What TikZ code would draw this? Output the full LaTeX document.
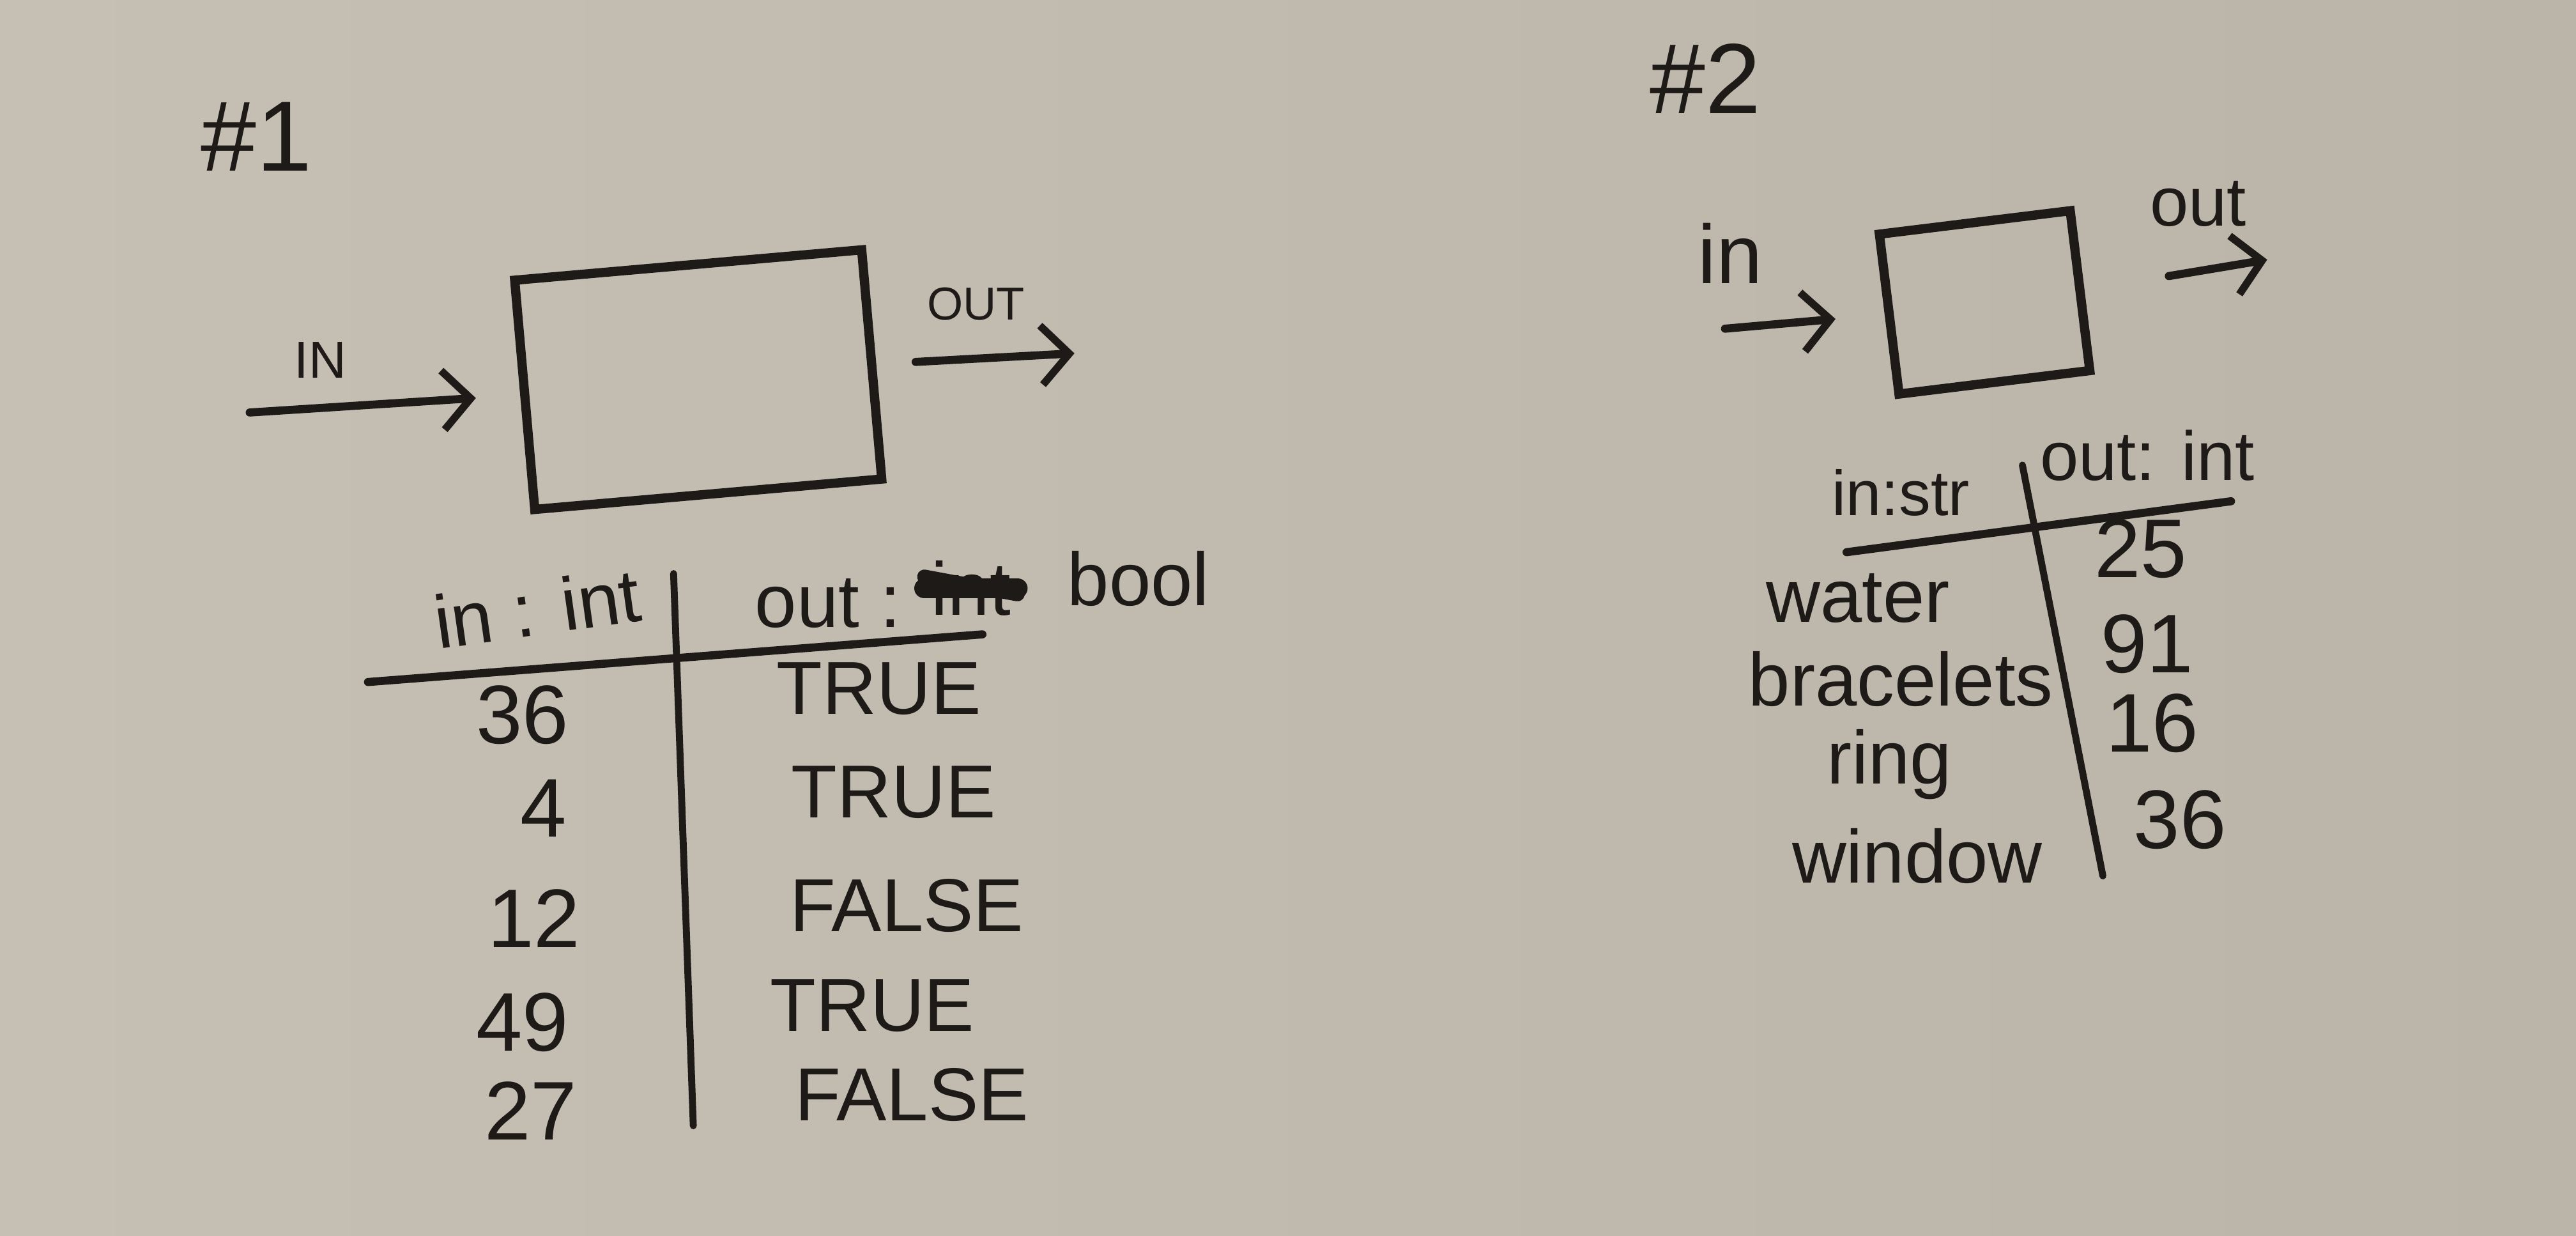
\documentclass[tikz,border=0pt]{standalone}
\usepackage{fontspec}
\setmainfont{Liberation Sans}
\usepackage{xcolor}
\usepackage{tikz}
\usetikzlibrary{arrows.meta}
\definecolor{paper}{RGB}{197,191,180}
\definecolor{paperdark}{RGB}{186,180,169}
\definecolor{ink}{RGB}{30,26,24}

\begin{document}
\begin{tikzpicture}[
        inkline/.style={draw=ink, line width=1.4pt, line cap=round},
        flow/.style={inkline, -{Straight Barb[length=0.17cm, width=0.36cm, line width=1.3pt]}},
        lbl/.style={text=ink, inner sep=1pt},
        cell/.style={text=ink, inner sep=1pt, font=\fontsize{13}{15}\selectfont},
        digit/.style={text=ink, inner sep=1pt, font=\Large},
        blackbox/.style={draw=ink, line width=1.6pt}
    ]
        \shade[left color=paper, right color=paperdark] (0, 0) rectangle (15.68, 7.52);
        \node[lbl, font=\LARGE] (num1) at (1.56, 6.69) {\#1};
        \node[blackbox, rotate=5, minimum width=2.12cm, minimum height=1.40cm] (box1) at (4.25, 5.21) {};
        \coordinate (in1) at (1.52, 5.01);
        \coordinate (out1) at (6.54, 5.37);
        \draw[flow, shorten >=0.27cm] (in1) -- (box1.west);
        \draw[flow, shorten <=0.24cm] (box1.east) -- (out1);
        \node[lbl, font=\small] (inlbl1) at (1.95, 5.33) {IN};
        \node[lbl, font=\footnotesize] (outlbl1) at (5.94, 5.67) {OUT};
        \draw[inkline] (2.24, 3.37) -- (5.98, 3.66);
        \draw[inkline, line width=1.2pt] (4.10, 4.03) -- (4.22, 0.67);
        \node[cell, rotate=8] (headin1) at (3.27, 3.82) {in : int};
        \node[cell] (headout1) at (5.04, 3.85) {out :};
        \node[cell] (xint) at (5.91, 3.94) {int};
        \draw[ink, line width=3.5pt, line cap=round] (xint.west) -- (xint.east);
        \draw[ink, line width=2.5pt, line cap=round] ([yshift=2pt]xint.west) -- ([yshift=-1pt]xint.east);
        \node[cell] (bool1) at (6.93, 4.00) {bool};
        \node[digit] (a1) at (3.18, 3.17) {36};
        \node[cell] (b1) at (5.35, 3.33) {TRUE};
        \node[digit] (a2) at (3.31, 2.60) {4};
        \node[cell] (b2) at (5.44, 2.70) {TRUE};
        \node[digit] (a3) at (3.25, 1.93) {12};
        \node[cell] (b3) at (5.52, 2.01) {FALSE};
        \node[digit] (a4) at (3.18, 1.30) {49};
        \node[cell] (b4) at (5.31, 1.40) {TRUE};
        \node[digit] (a5) at (3.23, 0.76) {27};
        \node[cell] (b5) at (5.55, 0.86) {FALSE};
        \node[lbl, font=\LARGE] (num2) at (10.38, 7.04) {\#2};
        \node[blackbox, rotate=7, minimum width=1.17cm, minimum height=0.98cm] (box2) at (12.08, 5.68) {};
        \coordinate (in2) at (10.50, 5.52);
        \coordinate (out2) at (13.80, 5.94);
        \draw[flow, shorten >=0.3cm] (in2) -- (box2.west);
        \draw[flow, shorten <=0.52cm] (box2.east) -- (out2);
        \node[lbl, font=\Large] (inlbl2) at (10.53, 5.98) {in};
        \node[lbl, font=\large] (outlbl2) at (13.38, 6.28) {out};
        \draw[inkline] (11.24, 4.16) -- (13.58, 4.47);
        \draw[inkline, line width=1.2pt] (12.31, 4.69) -- (12.80, 2.19);
        \node[lbl, font=\fontsize{11}{13}\selectfont] (headin2) at (11.57, 4.52) {in:str};
        \node[lbl, font=\large] (headout2) at (13.07, 4.75) {out: int};
        \node[cell] (w1) at (11.31, 3.88) {water};
        \node[digit] (v1) at (13.03, 4.18) {25};
        \node[cell] (w2) at (11.57, 3.39) {bracelets};
        \node[digit] (v2) at (13.07, 3.60) {91};
        \node[cell] (w3) at (11.50, 2.87) {ring};
        \node[digit] (v3) at (13.10, 3.12) {16};
        \node[cell] (w4) at (11.67, 2.31) {window};
        \node[digit] (v4) at (13.27, 2.53) {36};
    \end{tikzpicture}
\end{document}
